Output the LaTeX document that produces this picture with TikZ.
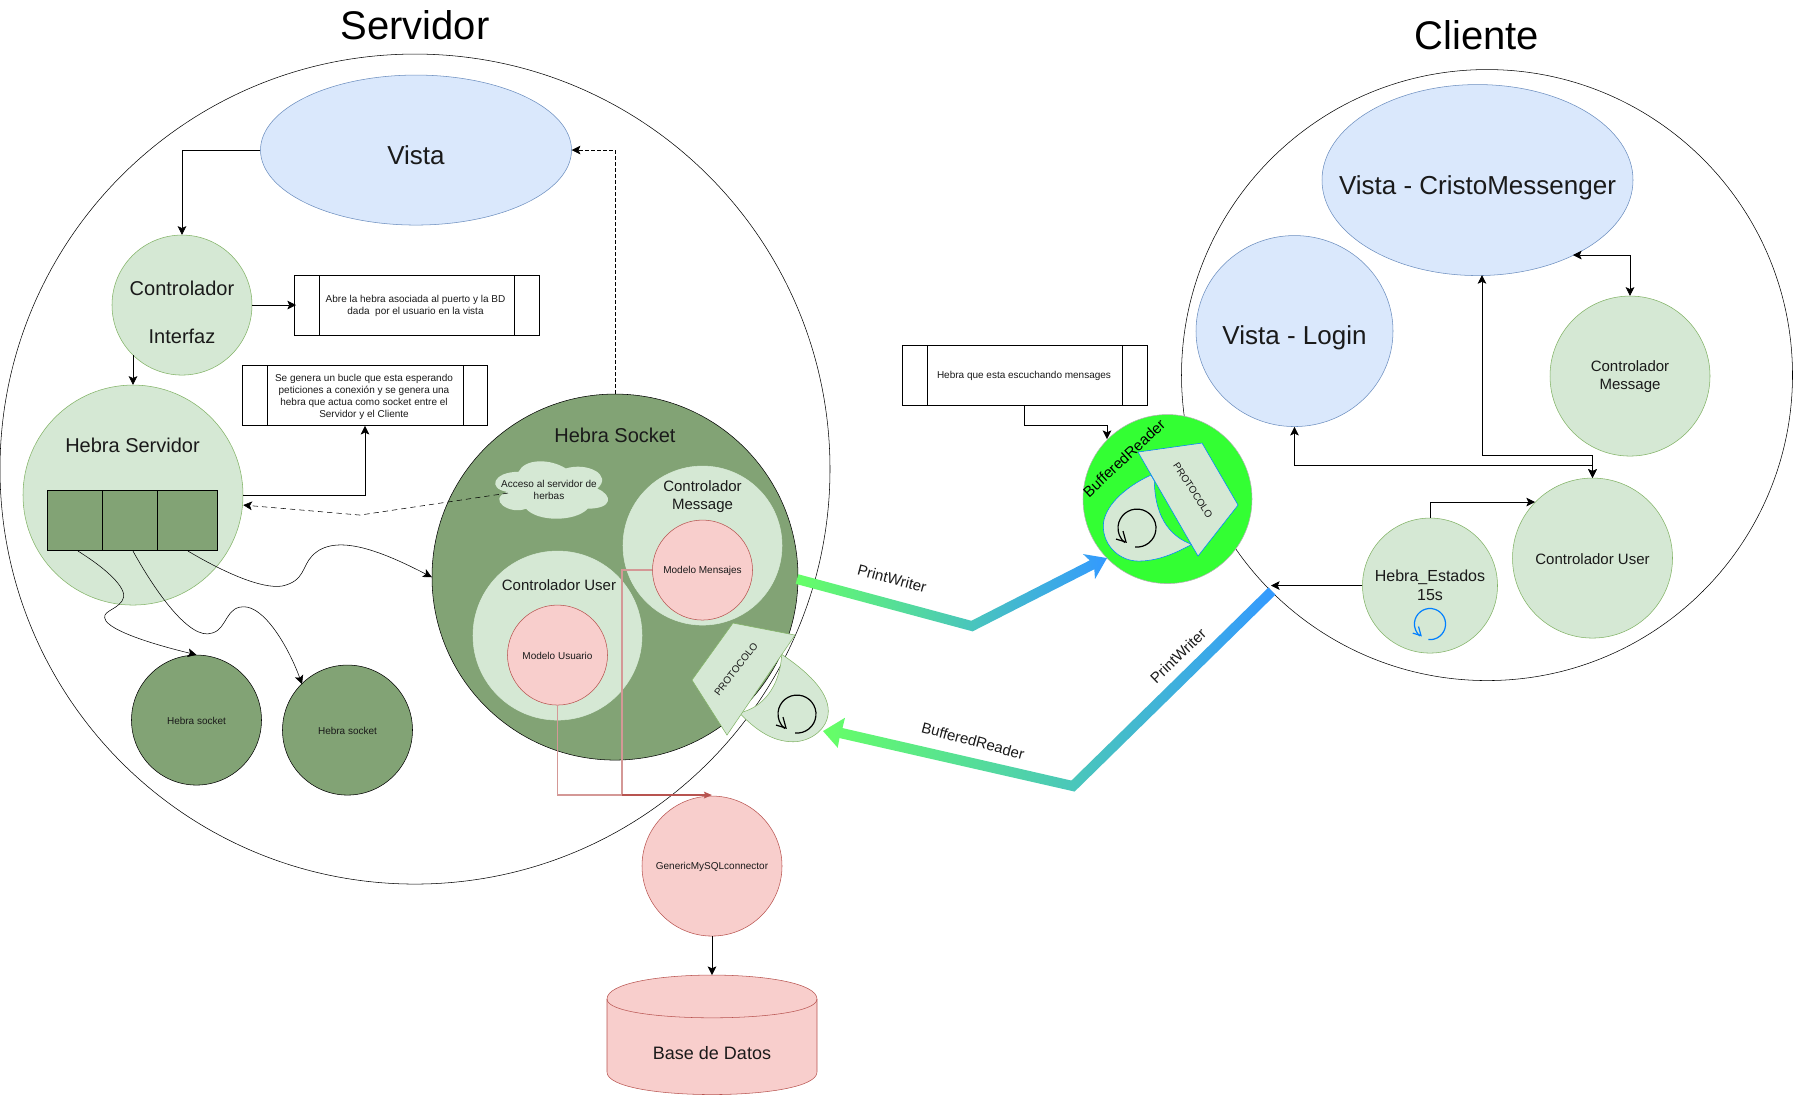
\documentclass[tikz,border=0pt]{standalone}
\usepackage{fontspec}
\setmainfont{Liberation Sans}
\usetikzlibrary{arrows.meta,shapes.geometric,calc}
\definecolor{lgreen}{HTML}{D5E8D4}
\definecolor{sgreen}{HTML}{82B366}
\definecolor{dgreen}{HTML}{82A375}
\definecolor{lblue}{HTML}{DAE8FC}
\definecolor{sblue}{HTML}{6C8EBF}
\definecolor{lred}{HTML}{F8CECC}
\definecolor{sred}{HTML}{B85450}
\definecolor{brightgreen}{HTML}{33FF33}
\definecolor{pureblue}{HTML}{007FFF}
\definecolor{gradgreen}{HTML}{66FF66}
\definecolor{gradblue}{HTML}{3399FF}
\definecolor{txt}{HTML}{1A1A1A}
\newcommand{\loopmark}[4]{%
  \begin{scope}[shift={(#1,#2)},scale=#3]
    \draw[#4,line width=0.9pt] (-2,18.9) arc[start angle=96,end angle=-230,radius=19];
    \draw[#4,line width=0.9pt] (-21,11) -- (-11,14) -- (-14,3);
  \end{scope}}
\tikzset{
  x=0.75pt,y=-0.75pt,
  line width=1pt,
  tip/.style={-{Stealth[length=6.5pt,width=6.5pt,inset=1.5pt]}},
  bothtip/.style={{Stealth[length=6.5pt,width=6.5pt,inset=1.5pt]}-{Stealth[length=6.5pt,width=6.5pt,inset=1.5pt]}},
  dia/.style={circle,minimum size=#1*0.75pt,inner sep=0pt},
  big/.style={circle,draw=black,fill=white,minimum size=#1*0.75pt,inner sep=0pt},
  gc/.style={dia=#1,draw=sgreen,fill=lgreen,text=txt},
  gcn/.style={dia=#1,draw=lgreen,fill=lgreen,text=txt},
  dc/.style={dia=#1,draw=black,fill=dgreen,text=txt},
  rc/.style={dia=#1,draw=sred,fill=lred,text=txt},
  be/.style={ellipse,draw=sblue,fill=lblue,text=txt,inner sep=0pt},
  t40/.style={text=black,font=\fontsize{30pt}{36pt}\selectfont},
  t25/.style={text=txt,font=\fontsize{19.5pt}{23pt}\selectfont,yshift=-1.5pt},
  t20/.style={text=txt,font=\fontsize{15pt}{18pt}\selectfont},
  t16/.style={text=txt,font=\fontsize{12pt}{14pt}\selectfont,align=center},
  t15/.style={text=txt,font=\fontsize{11.25pt}{13.5pt}\selectfont,align=center,yshift=-0.6pt},
  t10/.style={text=txt,font=\fontsize{7.5pt}{9pt}\selectfont,align=center,yshift=-0.9pt},
  boxo/.style={draw=black,fill=white,inner sep=0pt,minimum height=60*0.75pt},
  redl/.style={draw=sred!60!white,line width=0.9pt},
  rect/.style={draw=black,fill=dgreen,inner sep=0pt,minimum height=60*0.75pt},
}
\begin{document}
\begin{tikzpicture}
\useasboundingbox (0,0) rectangle (1793,1095);
\begin{scope}[yshift=-0.8pt]
% big circles
\node[big=830] (srv) at (415,468) {};
\node[big=611] (cli) at (1487,374) {};
\node[t40] (srvt) at (415,24) {Servidor};
\node[t40] (clit) at (1477,34) {Cliente};

% server
\node[be,minimum width=311*0.75pt,minimum height=150*0.75pt] (vista) at (416,149) {};
\node[t25] at (416,152) {Vista};
\node[gc=140] (ctrl) at (182,304) {};
\node[t20] at (182,287) {Controlador};
\node[t20] at (182,335) {Interfaz};
\node[gc=220] (hserv) at (133,494) {};
\node[t20] at (132.5,444) {Hebra Servidor};
\node[rect,minimum width=55*0.75pt] (r1) at (74.5,519) {};
\node[rect,minimum width=55*0.75pt] (r2) at (129.5,519) {};
\node[rect,minimum width=60*0.75pt] (r3) at (187,519) {};
\node[dc=130] (hs1) at (196.5,719) {};
\node[t10] at (196.5,719) {Hebra socket};
\node[dc=130] (hs2) at (347.5,729) {};
\node[t10] at (347.5,729) {Hebra socket};
% boxes
\node[boxo,minimum width=245*0.75pt] (b1) at (416.5,304) {};
\draw (319,274) -- (319,334) (514,274) -- (514,334);
\node[t10] at (415.5,304) {Abre la hebra asociada al puerto y la BD\\dada\ \ por el usuario en la vista};
\node[boxo,minimum width=245*0.75pt] (b2) at (364.5,394.5) {};
\draw (267,365) -- (267,424) (463,365) -- (463,424);
\node[t10] at (364,394.5) {Se genera un bucle que esta esperando\\peticiones a conexión y se genera una\\hebra que actua como socket entre el\\Servidor y el Cliente};
\node[boxo,minimum width=245*0.75pt] (b3) at (1024.5,374) {};
\draw (927,344) -- (927,404) (1122,344) -- (1122,404);
\node[t10] at (1024,374) {Hebra que esta escuchando mensages};

% Hebra socket
\node[dc=366] (hsock) at (615,576) {};
\node[t20] at (615,434) {Hebra Socket};
\coordinate (cl) at (487,454);
\begin{scope}[shift={(cl)},x=94.5pt,y=-50.25pt]
\fill[lgreen] (0.25,0.25) .. controls (0.05,0.25) and (0,0.5) .. (0.16,0.55)
 .. controls (0,0.66) and (0.18,0.9) .. (0.31,0.8)
 .. controls (0.4,1) and (0.7,1) .. (0.8,0.8)
 .. controls (1,0.8) and (1,0.6) .. (0.875,0.5)
 .. controls (1,0.3) and (0.8,0.1) .. (0.625,0.2)
 .. controls (0.5,0.05) and (0.3,0.05) .. (0.25,0.25) -- cycle;
\end{scope}
\node[t10] (cloud) at (549,488) {Acceso al servidor de\\herbas};
\node[gcn=159] (cm) at (702.5,544.5) {};
\node[t15] at (702.5,495) {Controlador\\Message};
\node[rc=100] (mm) at (702.5,569) {};
\node[t10] at (702.5,569) {Modelo Mensajes};
\node[gcn=169] (cu) at (557.5,634.5) {};
\node[t15] at (559,583) {Controlador User};
\node[rc=100] (mu) at (557.5,654) {};
\node[t10] at (557.5,654) {Modelo Usuario};

% server protocol
\filldraw[draw=sgreen,fill=lgreen] (781.7,653.3) .. controls (806.7,670) and (828.3,690) .. (828.3,710)
 .. controls (828.3,728.3) and (810,740.7) .. (793.3,740.7)
 .. controls (773.3,740.7) and (756.7,730) .. (739.3,711.7)
 .. controls (761.7,707.3) and (780,686.7) .. (781.7,653.3) -- cycle;
\filldraw[draw=sgreen,fill=lgreen] (733,622) -- (795,634) -- (727,734) -- (692,679) -- cycle;
\node[t10,rotate=52] (pr1) at (736,667) {PROTOCOLO};
\loopmark{797}{713}{1}{black}

% Generic + DB
\node[rc=140] (gen) at (712,865) {};
\node[t10] at (712,865) {GenericMySQLconnector};
\coordinate (dbtop) at (712,974);
\filldraw[draw=sred,fill=lred] (607,998) .. controls (607,966) and (817,966) .. (817,998) -- (817,1071) .. controls (817,1101) and (607,1101) .. (607,1071) -- cycle;
\draw[sred] (607,998) .. controls (607,1023) and (817,1023) .. (817,998);
\node[t15,font=\fontsize{13.5pt}{16pt}\selectfont] (db) at (712,1051) {Base de Datos};
\draw[tip] (gen.south) -- (dbtop);

% red links
\coordinate (gent) at (712,794);
\draw[redl] (mu.south) -- (557.5,794) -- (622,794);
\draw[redl] (mm.west) -- (622,569) -- (622,794);
\draw[draw=sred,line width=0.9pt,-{Stealth[length=6pt,width=5pt,inset=1pt]}] (622,794) -- (gent);

% server links
\draw[tip] (vista.west |- 0,149) -- (182,149) -- (ctrl.north);
\draw[tip] (133,354) -- (hserv.north);
\draw[tip] (ctrl.east) -- (296,304);
\draw[tip] (hserv.east) -- (365,494) -- (b2.south -| 365,0);
\draw[tip,dash pattern=on 4pt off 3pt] (508,492) -- (360,514) -- (hserv.east |- 0,504);
\draw[tip,dash pattern=on 2.5pt off 2pt] (hsock.north) -- (615,149) -- (vista.east);
\draw[tip] (78,550) .. controls (110,570) and (130,590) .. (122,600) .. controls (115,610) and (100,610) .. (106,620) .. controls (115,632) and (160,645) .. (hs1.north);
\draw[tip] (133,550) .. controls (155,590) and (190,640) .. (212,632) .. controls (228,628) and (225,603) .. (247,606) .. controls (268,610) and (290,650) .. (302,683);
\draw[tip] (188,550) .. controls (225,572) and (262,588) .. (282,585) .. controls (305,580) and (302,565) .. (312,555) .. controls (335,530) and (385,552) .. (hsock.west);

% client
\node[be,minimum width=311*0.75pt,minimum height=191*0.75pt] (vcm) at (1477.5,179) {};
\node[t25] at (1477.5,185) {Vista - CristoMessenger};
\node[be,minimum width=197*0.75pt,minimum height=191*0.75pt] (vl) at (1294.5,330) {};
\node[t25] at (1294.5,335) {Vista - Login};
\node[gc=160] (ccm) at (1630,375) {};
\node[t15] at (1630,374.5) {Controlador\\Message};
\node[gc=160] (ccu) at (1592.5,557) {};
\node[t15] at (1592.5,557) {Controlador User};
\node[gc=135] (he) at (1430,584.5) {};
\node[t16] at (1430,584) {Hebra\_Estados\\15s};
\loopmark{1430}{623}{0.82}{pureblue}
\draw[bothtip] (vl.south) -- (1294.5,464) -- (1592.5,464) -- (ccu.north);
\draw[bothtip] (1482,274) -- (1482,454) -- (1592.5,454) -- (ccu.north);
\draw[bothtip] (1573,254) -- (1630,254) -- (ccm.north);
\draw[tip] (he.north) -- (1430,501) -- (1535,501);
\coordinate (cliedge) at (1271,584.5);
\draw[tip] (he.west) -- (cliedge);

% client receiver
\node[dia=169,draw=gray!60,fill=brightgreen] (br) at (1167.5,498) {};
\filldraw[draw=pureblue,fill=lgreen] (1151,474) .. controls (1123.3,486.7) and (1103.3,506.7) .. (1103.3,525)
 .. controls (1103.3,545) and (1120,560) .. (1138.3,560)
 .. controls (1156.7,560) and (1173.3,553.3) .. (1191.7,543.3)
 .. controls (1173.3,536.7) and (1155,520) .. (1154.3,480) -- cycle;
\filldraw[draw=pureblue,fill=lgreen] (1138,451) -- (1202,442) -- (1238,504) -- (1198,555) -- cycle;
\node[t10,rotate=-57] (pr2) at (1193,488) {PROTOCOLO};
\loopmark{1137}{527}{1}{black}
\node[text=black,font=\fontsize{11.25pt}{14pt}\selectfont,rotate=43] (brt) at (1124,457) {BufferedReader};
\draw[tip] (1024.5,404) -- (1024.5,424) -- (1107,424) -- (1107,438);

% gradient arrows
\shade[left color=gradgreen,right color=gradblue] (798.3,573.2) -- (971.4,619.7) -- (1089.7,559.3) -- (1083,553) -- (1107,557) -- (1095,578) -- (1094.3,568.2) -- (972.6,630.3) -- (795.7,582.8) -- cycle;
\shade[left color=gradgreen,right color=gradblue] (1275.5,593.6) -- (1074.6,790.5) -- (839.5,737) -- (837.7,746.7) -- (823,730) -- (845,716.7) -- (842.5,727) -- (1071.4,779.5) -- (1268.5,586.4) -- cycle;
\node[t15,rotate=-15] (pw1) at (892,577) {PrintWriter};
\node[t15,rotate=-15] (br1) at (973,739) {BufferedReader};
\node[t15,rotate=44] (pw2) at (1178,654) {PrintWriter};
\end{scope}
\end{tikzpicture}
\end{document}
